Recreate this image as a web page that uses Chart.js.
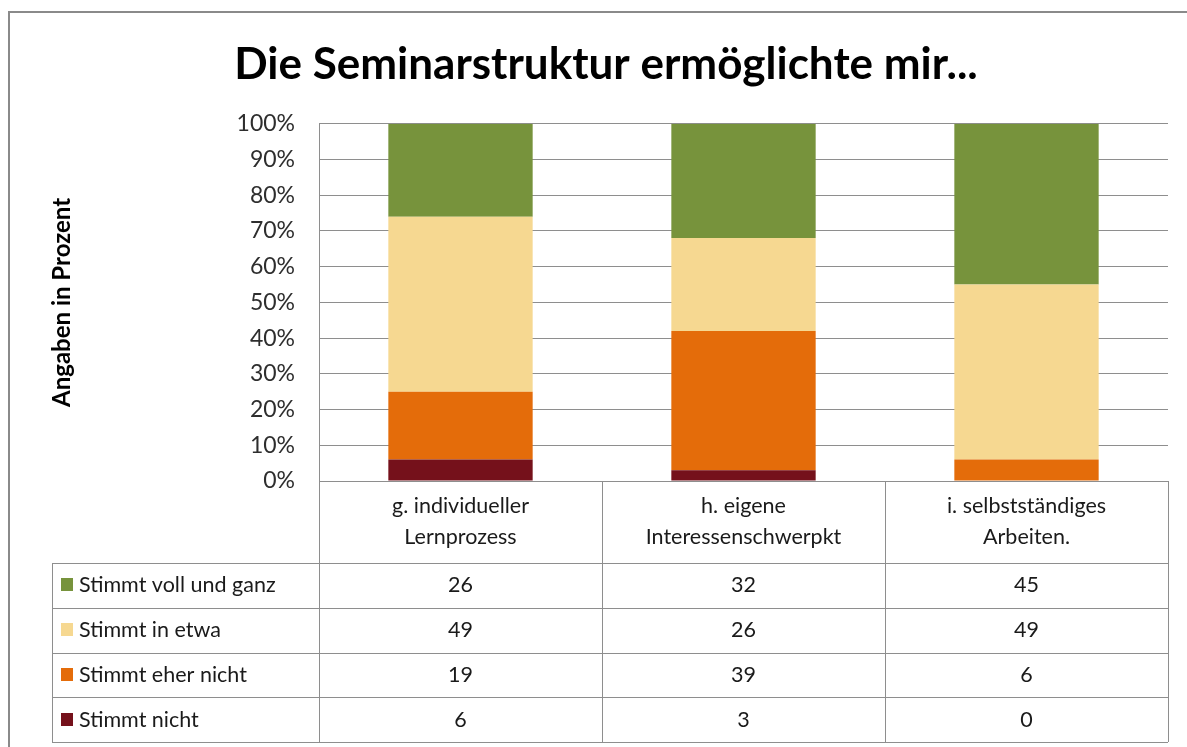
<!DOCTYPE html>
<html>
<head>
<meta charset="utf-8">
<script src="https://cdn.jsdelivr.net/npm/chart.js@4/dist/chart.umd.min.js"></script>
<style>
    html, body { margin: 0; padding: 0; background: #fff; }
    #chart { display: block; }
</style>
</head>
<body>
<canvas id="chart" width="1187" height="747"></canvas>
<script>
// --------------------------------
// Data
// --------------------------------

const categories = [
    ['g. individueller', 'Lernprozess'],
    ['h. eigene', 'Interessenschwerpkt'],
    ['i. selbstständiges', 'Arbeiten.']
];

// stacked bottom -> top
const seriesNames = ['Stimmt nicht', 'Stimmt eher nicht', 'Stimmt in etwa', 'Stimmt voll und ganz'];
const stimmtNicht = [6, 3, 0];
const stimmtEherNicht = [19, 39, 6];
const stimmtInEtwa = [49, 26, 49];
const stimmtVoll = [26, 32, 45];
const seriesColors = ['#75111b', '#e46c0a', '#f6d891', '#77933c'];

const yMin = 0;
const yMax = 100;
const yStep = 10;

const titleText = 'Die Seminarstruktur ermöglichte mir...';
const yTitle = 'Angaben in Prozent';

const lineGray = '#8e8e8e';
const fontFamily = 'Lato, "Open Sans", sans-serif';

// --------------------------------
// Plugins
// --------------------------------

const frame = {
    id: 'frame',
    beforeDraw(chart) {
        const ctx = chart.ctx;
        ctx.save();
        ctx.strokeStyle = '#8a8a8a';
        ctx.lineWidth = 2;
        ctx.strokeRect(9, 12, chart.width + 20, chart.height + 20);
        ctx.restore();
    }
};

const dataTable = {
    id: 'dataTable',
    afterDraw(chart) {
        const ctx = chart.ctx;
        const area = chart.chartArea;
        const x = chart.scales.x;
        const sets = chart.data.datasets;
        const colW = (area.right - area.left) / chart.data.labels.length;
        const tableLeft = 52;
        const headBottom = 563;
        const rowH = 44.75;
        const tableBottom = headBottom + rowH * sets.length;

        ctx.save();
        ctx.strokeStyle = lineGray;
        ctx.lineWidth = 1;

        // vertical lines
        ctx.beginPath();
        for (let i = 0; i <= chart.data.labels.length; i++) {
            const px = Math.round(area.left + colW * i) + 0.5;
            ctx.moveTo(px, area.bottom);
            ctx.lineTo(px, tableBottom);
        }
        ctx.moveTo(tableLeft + 0.5, headBottom);
        ctx.lineTo(tableLeft + 0.5, tableBottom);

        // horizontal lines
        for (let r = 0; r <= sets.length; r++) {
            const py = Math.round(headBottom + rowH * r) + 0.5;
            ctx.moveTo(tableLeft, py);
            ctx.lineTo(area.right, py);
        }
        ctx.stroke();

        // rows, top row = last dataset
        ctx.textBaseline = 'middle';
        ctx.font = '21.5px ' + fontFamily;
        for (let r = 0; r < sets.length; r++) {
            const ds = sets[sets.length - 1 - r];
            const cy = headBottom + rowH * r + rowH / 2;

            ctx.fillStyle = ds.backgroundColor;
            ctx.fillRect(61, Math.round(cy - 7), 12, 13);

            ctx.fillStyle = '#1a1a1a';
            ctx.textAlign = 'left';
            ctx.fillText(ds.label, 79, cy);

            ctx.textAlign = 'center';
            for (let i = 0; i < ds.data.length; i++) {
                ctx.fillText(String(ds.data[i]), x.getPixelForValue(i), cy);
            }
        }
        ctx.restore();
    }
};

// --------------------------------
// Bar Chart
// --------------------------------

const seriesValues = [stimmtNicht, stimmtEherNicht, stimmtInEtwa, stimmtVoll];

const barGraph = new Chart(document.getElementById('chart'), {
    type: 'bar',
    data: {
        labels: categories,
        datasets: seriesNames.map((name, i) => ({
            label: name,
            data: seriesValues[i],
            backgroundColor: seriesColors[i],
            borderWidth: 0,
            categoryPercentage: 1,
            barPercentage: 0.51
        }))
    },
    options: {
        responsive: false,
        animation: false,
        layout: {
            padding: { left: 44, right: 19, top: 20, bottom: 0 }
        },
        plugins: {
            legend: { display: false },
            tooltip: { enabled: false },
            title: {
                display: true,
                text: titleText,
                color: '#000',
                font: { family: fontFamily, size: 44, weight: 'bold' },
                padding: { top: 18, bottom: 33 }
            }
        },
        scales: {
            x: {
                stacked: true,
                grid: { display: false, drawTicks: false },
                border: { display: false },
                ticks: {
                    color: '#1a1a1a',
                    padding: 9,
                    maxRotation: 0,
                    font: { family: fontFamily, size: 21.5, lineHeight: 1.45 }
                },
                afterFit(scale) {
                    scale.height = 266;
                }
            },
            y: {
                stacked: true,
                min: yMin,
                max: yMax,
                grid: { color: lineGray, drawTicks: false },
                border: { display: true, color: lineGray },
                ticks: {
                    stepSize: yStep,
                    padding: 24,
                    color: '#2e2e2e',
                    font: { family: fontFamily, size: 23 },
                    callback: v => v + '%'
                },
                title: {
                    display: true,
                    text: yTitle,
                    color: '#000',
                    font: { family: fontFamily, size: 24, weight: 'bold' },
                    padding: { top: 4, bottom: 4 }
                },
                afterFit(scale) {
                    scale.width = 319 - 44;
                }
            }
        }
    },
    plugins: [frame, dataTable]
});
</script>
</body>
</html>
